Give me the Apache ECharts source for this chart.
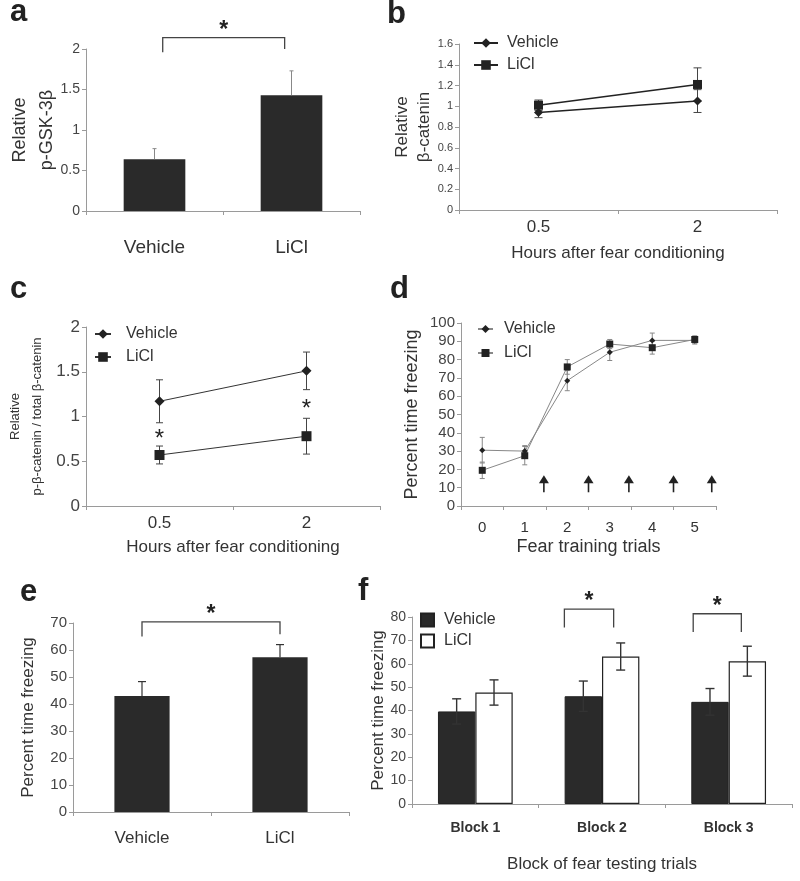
<!DOCTYPE html>
<html><head><meta charset="utf-8">
<script src="https://cdn.jsdelivr.net/npm/echarts/dist/echarts.min.js"></script>
<style>html,body{margin:0;padding:0;background:#fff}#c{width:800px;height:881px}</style>
</head><body><div id="c"></div><script>
// ---------- data ----------
const catsA = ['Vehicle', 'LiCl'];
const aMean = [0.64, 1.43];
const aErr = [0.13, 0.30];
const aBracket = [[0, 0.06, 1, -0.05, 2.14, 1.96, 2.0]];

const hours = ['0.5', '2'];
const bVeh = [0.94, 1.05];
const bVehErr = [0.05, 0.11];
const bLi = [1.01, 1.21];
const bLiErr = [0.05, 0.16];

const cVeh = [1.17, 1.51];
const cVehErr = [0.24, 0.21];
const cLi = [0.57, 0.78];
const cLiErr = [0.10, 0.20];
const cStars = [[0, 0.80], [1, 1.13]];

const trials = ['0', '1', '2', '3', '4', '5'];
const dVeh = [30.5, 30, 68.5, 84, 90.5, 90.5];
const dVehErr = [7, 3, 5.5, 4.5, 4, 2];
const dLi = [19.5, 27.5, 76, 88.5, 86.5, 91];
const dLiErr = [4.5, 5, 4, 2.5, 3.5, 2];
const dArrows = [[1, 0.45, 16.8, 7.5], [2, 0.5, 16.8, 7.5], [3, 0.45, 16.8, 7.5], [4, 0.5, 16.8, 7.5], [5, 0.4, 16.8, 7.5]];

const catsE = ['Vehicle', 'LiCl'];
const eMean = [43, 57.3];
const eErr = [5.3, 4.7];
const eBracket = [[0, 0.0, 1, 0.0, 70.4, 65, 65.8]];

const blocks = ['Block 1', 'Block 2', 'Block 3'];
const fVeh = [39.6, 46.1, 43.7];
const fVehErr = [5.4, 6.5, 5.7];
const fLi = [47.7, 63.1, 61.1];
const fLiErr = [5.4, 5.8, 6.4];
const fBracket = [[1, -0.297, 1, 0.092, 83.4, 75.5, 75.5], [2, -0.28, 2, 0.10, 81.4, 73.6, 73.6]];

// ---------- helpers ----------
const F = '"Liberation Sans", Arial, Helvetica, sans-serif';
const TXT = '#333';
const AX = '#9a9a9a';
const BAR = '#2a2a2a';

function xCat(g, data, o) {
  return {
    type: 'category', gridIndex: g, data: data, boundaryGap: true,
    axisLine: {lineStyle: {color: AX}},
    axisTick: {show: true, length: 4, lineStyle: {color: AX}},
    axisLabel: {color: TXT, fontFamily: F, fontSize: o.fs, margin: o.margin, fontWeight: o.fw || 'normal'},
    name: o.name || '', nameLocation: 'middle', nameGap: o.nameGap || 0, nameMoveOverlap: false,
    nameTextStyle: {color: TXT, fontFamily: F, fontSize: o.nfs || 17}
  };
}
function yVal(g, max, interval, o) {
  return {
    type: 'value', gridIndex: g, min: 0, max: max, interval: interval,
    axisLine: {show: true, lineStyle: {color: AX}},
    axisTick: {show: true, length: 4, lineStyle: {color: AX}},
    splitLine: {show: false},
    axisLabel: {color: '#444', fontFamily: F, fontSize: o.fs, margin: o.margin || 6},
    name: o.name, nameLocation: 'middle', nameRotate: 90, nameGap: o.nameGap, nameMoveOverlap: false,
    nameTextStyle: {color: TXT, fontFamily: F, fontSize: o.nfs, lineHeight: o.lh || o.nfs + 2}
  };
}
function errSeries(xi, means, errs, off, cap, color, lw, both) {
  return {
    type: 'custom', xAxisIndex: xi, yAxisIndex: xi, clip: false, z: 5, silent: true,
    data: means.map((v, i) => [i, v, errs[i]]),
    encode: {x: 0, y: 1},
    renderItem: function (p, api) {
      const i = api.value(0), v = api.value(1), e = api.value(2);
      const bw = api.size([1, 0])[0];
      const c = api.coord([i, v]);
      const x = c[0] + off * bw;
      const yt = api.coord([i, v + e])[1];
      const yb = both ? api.coord([i, v - e])[1] : c[1];
      const st = {stroke: color, lineWidth: lw};
      const ch = [{type: 'line', shape: {x1: x, y1: yt, x2: x, y2: yb}, style: st}];
      if (cap > 0) {
        ch.push({type: 'line', shape: {x1: x - cap / 2, y1: yt, x2: x + cap / 2, y2: yt}, style: st});
        if (both) ch.push({type: 'line', shape: {x1: x - cap / 2, y1: yb, x2: x + cap / 2, y2: yb}, style: st});
      }
      return {type: 'group', children: ch};
    }
  };
}
function bracketSeries(xi, br, fs) {
  return {
    type: 'custom', xAxisIndex: xi, yAxisIndex: xi, clip: false, z: 6, silent: true,
    data: br, encode: {x: 0, y: 4},
    renderItem: function (p, api) {
      const bw = api.size([1, 0])[0];
      const p0 = api.coord([api.value(0), api.value(4)]);
      const p1 = api.coord([api.value(2), api.value(4)]);
      const x0 = p0[0] + api.value(1) * bw;
      const x1 = p1[0] + api.value(3) * bw;
      const yT = p0[1];
      const yL = api.coord([api.value(0), api.value(5)])[1];
      const yR = api.coord([api.value(2), api.value(6)])[1];
      return {type: 'group', children: [
        {type: 'polyline', shape: {points: [[x0, yL], [x0, yT], [x1, yT], [x1, yR]]},
         style: {stroke: '#444', lineWidth: 1.3, fill: null}},
        {type: 'text', x: (x0 + x1) / 2, y: yT + 4,
         style: {text: '*', font: 'bold ' + fs + 'px ' + F, fill: '#222', align: 'center', verticalAlign: 'bottom'}}
      ]};
    }
  };
}
function starSeries(xi, pts, fs) {
  return {
    type: 'custom', xAxisIndex: xi, yAxisIndex: xi, clip: false, z: 6, silent: true,
    data: pts, encode: {x: 0, y: 1},
    renderItem: function (p, api) {
      const c = api.coord([api.value(0), api.value(1)]);
      return {type: 'text', x: c[0], y: c[1] + 5,
        style: {text: '*', font: fs + 'px ' + F, fill: '#222', align: 'center', verticalAlign: 'middle'}};
    }
  };
}
function arrowSeries(xi, arr) {
  return {
    type: 'custom', xAxisIndex: xi, yAxisIndex: xi, clip: false, z: 6, silent: true,
    data: arr, encode: {x: 0, y: 2},
    renderItem: function (p, api) {
      const bw = api.size([1, 0])[0];
      const c = api.coord([api.value(0), api.value(2)]);
      const x = c[0] + api.value(1) * bw;
      const yTip = c[1];
      const yBase = api.coord([api.value(0), api.value(3)])[1];
      return {type: 'group', children: [
        {type: 'line', shape: {x1: x, y1: yBase, x2: x, y2: yTip + 6}, style: {stroke: '#222', lineWidth: 1.6}},
        {type: 'polygon', shape: {points: [[x, yTip], [x - 5, yTip + 8], [x + 5, yTip + 8]]}, style: {fill: '#222'}}
      ]};
    }
  };
}
const nameOnly = n => n.split('_')[1];
function legend(o, pad) {
  return Object.assign({
    orient: 'vertical', selectedMode: false, formatter: nameOnly, padding: 0,
    textStyle: {color: TXT, fontFamily: F, fontSize: 16, padding: [0, 0, 0, pad]}
  }, o);
}

// ---------- chart ----------
const chart = echarts.init(document.getElementById('c'), null, {renderer: 'canvas'});
const letters = [['a', 10, -3], ['b', 387, -1], ['c', 10, 274], ['d', 390, 274], ['e', 20, 577], ['f', 358, 576]];

chart.setOption({
  animation: false,
  backgroundColor: '#fff',
  grid: [
    {left: 86, top: 49, width: 274, height: 162},
    {left: 459, top: 44, width: 318, height: 166},
    {left: 86, top: 327, width: 294, height: 179},
    {left: 461, top: 323, width: 255, height: 183},
    {left: 73, top: 623, width: 276, height: 189},
    {left: 412, top: 617, width: 380, height: 187}
  ],
  xAxis: [
    xCat(0, catsA, {fs: 19, margin: 27}),
    xCat(1, hours, {fs: 17, margin: 9, name: 'Hours after fear conditioning', nameGap: 35, nfs: 17}),
    xCat(2, hours, {fs: 17, margin: 9, name: 'Hours after fear conditioning', nameGap: 33, nfs: 17}),
    xCat(3, trials, {fs: 15, margin: 14, name: 'Fear training trials', nameGap: 32, nfs: 18}),
    xCat(4, catsE, {fs: 17, margin: 18}),
    xCat(5, blocks, {fs: 14, margin: 17, fw: 'bold', name: 'Block of fear testing trials', nameGap: 52, nfs: 17})
  ],
  yAxis: [
    yVal(0, 2, 0.5, {fs: 14, name: 'Relative\np-GSK-3β', nameGap: 25, nfs: 18, lh: 27}),
    yVal(1, 1.6, 0.2, {fs: 11, name: 'Relative\nβ-catenin', nameGap: 24, nfs: 17, lh: 22}),
    yVal(2, 2, 0.5, {fs: 17, name: 'Relative\np-β-catenin / total β-catenin', nameGap: 38, nfs: 13, lh: 22}),
    yVal(3, 100, 10, {fs: 15, name: 'Percent time freezing', nameGap: 39, nfs: 18, lh: 20}),
    yVal(4, 70, 10, {fs: 15, name: 'Percent time freezing', nameGap: 35, nfs: 17, lh: 19}),
    yVal(5, 80, 10, {fs: 14, name: 'Percent time freezing', nameGap: 24, nfs: 17, lh: 19})
  ],
  legend: [
    legend({left: 473, top: 35, itemWidth: 24, itemHeight: 12, itemGap: 6, data: ['b_Vehicle', 'b_LiCl']}, 4),
    legend({left: 94, top: 326, itemWidth: 16, itemHeight: 12, itemGap: 7, data: ['c_Vehicle', 'c_LiCl']}, 10),
    legend({left: 477, top: 321, itemWidth: 15, itemHeight: 10, itemGap: 8, data: ['d_Vehicle', 'd_LiCl']}, 6),
    legend({left: 420, top: 612, icon: 'rect', itemWidth: 13, itemHeight: 13, itemGap: 5, data: ['f_Vehicle', 'f_LiCl']}, 5)
  ],
  graphic: letters.map(l => ({type: 'text', x: l[1], y: l[2], z: 10,
    style: {text: l[0], font: 'bold 31px ' + F, fill: '#222', verticalAlign: 'top'}})),
  series: [
    // a
    {type: 'bar', name: 'a_bars', xAxisIndex: 0, yAxisIndex: 0, data: aMean, barWidth: '45%', itemStyle: {color: BAR}},
    errSeries(0, aMean, aErr, 0, 4, '#888', 1, false),
    bracketSeries(0, aBracket, 23),
    // b
    errSeries(1, bVeh, bVehErr, 0, 8, '#444', 1, true),
    errSeries(1, bLi, bLiErr, 0, 8, '#444', 1, true),
    {type: 'line', name: 'b_Vehicle', xAxisIndex: 1, yAxisIndex: 1, data: bVeh, symbol: 'diamond', symbolSize: 9,
     lineStyle: {color: '#222', width: 1.5}, itemStyle: {color: '#222'}, z: 7},
    {type: 'line', name: 'b_LiCl', xAxisIndex: 1, yAxisIndex: 1, data: bLi, symbol: 'rect', symbolSize: 9,
     lineStyle: {color: '#222', width: 1.5}, itemStyle: {color: '#222'}, z: 7},
    // c
    errSeries(2, cVeh, cVehErr, 0, 7, '#444', 1, true),
    errSeries(2, cLi, cLiErr, 0, 7, '#444', 1, true),
    {type: 'line', name: 'c_Vehicle', xAxisIndex: 2, yAxisIndex: 2, data: cVeh, symbol: 'diamond', symbolSize: 10,
     lineStyle: {color: '#333', width: 1}, itemStyle: {color: '#222'}, z: 7},
    {type: 'line', name: 'c_LiCl', xAxisIndex: 2, yAxisIndex: 2, data: cLi, symbol: 'rect', symbolSize: 10,
     lineStyle: {color: '#333', width: 1}, itemStyle: {color: '#222'}, z: 7},
    starSeries(2, cStars, 24),
    // d
    errSeries(3, dVeh, dVehErr, 0, 5, '#888', 1, true),
    errSeries(3, dLi, dLiErr, 0, 5, '#888', 1, true),
    {type: 'line', name: 'd_Vehicle', xAxisIndex: 3, yAxisIndex: 3, data: dVeh, symbol: 'diamond', symbolSize: 6,
     lineStyle: {color: '#888', width: 1}, itemStyle: {color: '#222'}, z: 7},
    {type: 'line', name: 'd_LiCl', xAxisIndex: 3, yAxisIndex: 3, data: dLi, symbol: 'rect', symbolSize: 7,
     lineStyle: {color: '#888', width: 1}, itemStyle: {color: '#222'}, z: 7},
    arrowSeries(3, dArrows),
    // e
    {type: 'bar', name: 'e_bars', xAxisIndex: 4, yAxisIndex: 4, data: eMean, barWidth: '40%', itemStyle: {color: BAR}},
    errSeries(4, eMean, eErr, 0, 8, '#333', 1.2, false),
    bracketSeries(4, eBracket, 23),
    // f
    {type: 'bar', name: 'f_Vehicle', xAxisIndex: 5, yAxisIndex: 5, data: fVeh, barGap: '0%', barCategoryGap: '41%',
     itemStyle: {color: BAR, borderColor: '#222', borderWidth: 1}},
    {type: 'bar', name: 'f_LiCl', xAxisIndex: 5, yAxisIndex: 5, data: fLi, barGap: '0%', barCategoryGap: '41%',
     itemStyle: {color: '#fff', borderColor: '#222', borderWidth: 1.2}},
    errSeries(5, fVeh, fVehErr, -0.1475, 9, '#333', 1.4, true),
    errSeries(5, fLi, fLiErr, 0.1475, 9, '#333', 1.4, true),
    bracketSeries(5, fBracket, 23)
  ]
});
</script></body></html>
